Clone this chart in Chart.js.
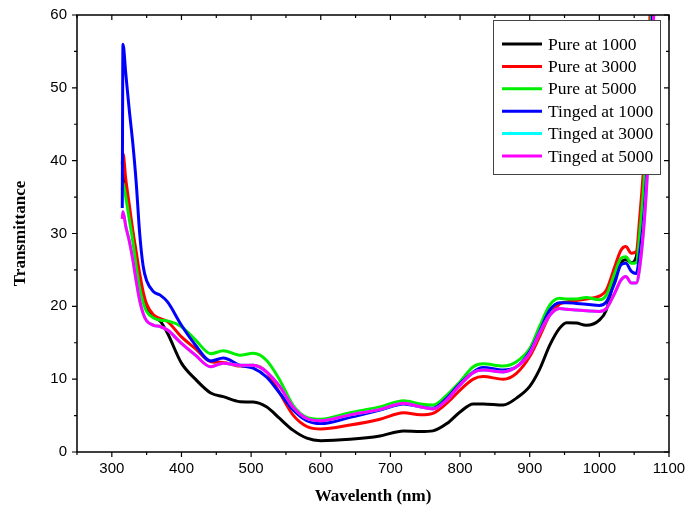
<!DOCTYPE html>
<html>
<head>
<meta charset="utf-8">
<script src="https://cdn.jsdelivr.net/npm/chart.js@4.4.1/dist/chart.umd.min.js"></script>
<style>
  html, body { margin: 0; padding: 0; background: #fff; }
  #wrap { width: 690px; height: 512px; }
</style>
</head>
<body>
<div id="wrap"><canvas id="chart"></canvas></div>
<script>
// wavelength (nm) shared by all curves
const wavelength = [315, 316, 320, 325, 330, 335, 340, 345, 350, 360, 370, 380, 400, 420, 442, 460, 484, 503, 522, 541, 560, 580, 600, 642, 685, 719, 743, 761, 781, 800, 819, 833, 862, 881, 900, 914, 929, 943, 953, 967, 981, 1000, 1010, 1022, 1031, 1038, 1046, 1053, 1058, 1065, 1072, 1078];

const pure1000 = [37.5, 38, 36, 33, 30, 26.5, 23.5, 21, 19.7, 18.6, 17.9, 16.3, 12.2, 10, 8.1, 7.6, 6.9, 6.85, 6.2, 4.6, 3.0, 1.9, 1.55, 1.74, 2.2, 2.9, 2.8, 2.9, 3.9, 5.5, 6.6, 6.6, 6.45, 7.4, 9.0, 11.3, 14.7, 17.0, 17.75, 17.7, 17.4, 18.1, 19.5, 24, 26.0, 26.4, 26.0, 26.8, 30, 37.5, 55, 72];
const pure3000 = [39.5, 41, 37.5, 34, 30.5, 27.5, 24.5, 22, 20.3, 18.8, 18.3, 17.9, 15.8, 14.2, 12.4, 12.3, 11.8, 11.9, 11.0, 8.1, 5.1, 3.5, 3.15, 3.7, 4.5, 5.4, 5.1, 5.3, 6.7, 8.5, 10.0, 10.35, 10.0, 10.8, 13.1, 15.8, 18.8, 20.3, 20.6, 20.8, 21.0, 21.4, 22.2, 25.4, 27.7, 28.2, 27.3, 27.5, 32.3, 41.5, 58, 74];
const pure5000 = [36, 37, 35, 32, 29, 25.5, 22.5, 20.5, 19.3, 18.4, 18.1, 18.0, 17.2, 15.4, 13.5, 13.9, 13.3, 13.55, 12.6, 9.9, 6.45, 4.76, 4.5, 5.4, 6.2, 7.05, 6.6, 6.45, 7.8, 9.65, 11.7, 12.1, 11.8, 12.4, 14.2, 17.2, 20.2, 21.1, 21.0, 21.0, 21.2, 20.9, 21.5, 24.5, 26.6, 26.8, 25.9, 26.0, 30, 38.3, 53, 70];
const tinged1000 = [33.5, 56, 52, 47, 42.5, 37, 30, 25.5, 23.5, 22.0, 21.5, 20.6, 17.4, 14.7, 12.5, 12.9, 11.9, 11.5, 10.3, 8.1, 5.8, 4.3, 3.9, 4.75, 5.75, 6.6, 6.2, 6.0, 7.4, 9.4, 11.0, 11.6, 11.25, 11.7, 13.8, 16.5, 19.5, 20.5, 20.5, 20.4, 20.3, 20.1, 20.6, 23.2, 25.7, 25.9, 24.8, 24.5, 27.3, 33.7, 47, 66];
const tinged3000 = [32, 33, 31, 29, 26.5, 23.5, 20.8, 19, 18, 17.4, 17.2, 16.75, 14.9, 13.3, 11.7, 12.2, 11.9, 11.9, 11.0, 9.0, 6.2, 4.6, 4.3, 5.1, 5.85, 6.7, 6.2, 5.9, 7.15, 9.2, 10.9, 11.25, 11.0, 11.7, 13.55, 16.3, 18.8, 19.7, 19.6, 19.5, 19.4, 19.3, 19.7, 21.8, 23.6, 24.1, 23.2, 23.2, 25.4, 32.3, 44, 60];
const tinged5000 = [32, 33, 31, 29, 26.5, 23.5, 20.8, 19, 18, 17.4, 17.2, 16.75, 14.9, 13.3, 11.7, 12.2, 11.9, 11.9, 11.0, 9.0, 6.2, 4.6, 4.3, 5.1, 5.85, 6.7, 6.2, 5.9, 7.15, 9.2, 10.9, 11.25, 11.0, 11.7, 13.55, 16.3, 18.8, 19.7, 19.6, 19.5, 19.4, 19.3, 19.7, 21.8, 23.6, 24.1, 23.2, 23.2, 25.4, 32.3, 44, 60];

const seriesNames = ['Pure at 1000', 'Pure at 3000', 'Pure at 5000', 'Tinged at 1000', 'Tinged at 3000', 'Tinged at 5000'];
const seriesValues = [pure1000, pure3000, pure5000, tinged1000, tinged3000, tinged5000];
const seriesColors = ['#000000', '#ff0000', '#00ee00', '#0000ff', '#00ffff', '#ff00ff'];

const xMin = 250, xMax = 1100, xStep = 50;
const yMin = 0, yMax = 60, yStep = 5;

const datasets = seriesNames.map((name, i) => ({
    label: name,
    data: wavelength.map((w, k) => ({ x: w, y: seriesValues[i][k] })),
    borderColor: seriesColors[i],
    backgroundColor: seriesColors[i],
    borderWidth: 3,
    pointRadius: 0,
    fill: false,
    cubicInterpolationMode: 'monotone',
    order: seriesNames.length - i
}));

// white page
const bgPlugin = {
    id: 'bg',
    beforeDraw(chart) {
        const c = chart.ctx;
        c.save();
        c.fillStyle = '#fff';
        c.fillRect(0, 0, chart.width, chart.height);
        c.restore();
    }
};

// box legend inside the plot, top right
const boxLegend = {
    id: 'boxLegend',
    afterDatasetsDraw(chart) {
        const c = chart.ctx;
        const a = chart.chartArea;
        const w = 167, h = 154;
        const x0 = a.right - 176, y0 = a.top + 5;
        c.save();
        c.fillStyle = '#fff';
        c.fillRect(x0, y0, w, h);
        c.strokeStyle = '#444';
        c.lineWidth = 1;
        c.strokeRect(x0 + 0.5, y0 + 0.5, w, h);
        c.font = '17.5px "Liberation Serif", "Times New Roman", serif';
        c.textBaseline = 'middle';
        c.fillStyle = '#000';
        chart.data.datasets.forEach((ds, i) => {
            const yy = y0 + 24 + i * 22.4;
            c.strokeStyle = ds.borderColor;
            c.lineWidth = 3;
            c.beginPath();
            c.moveTo(x0 + 9, yy);
            c.lineTo(x0 + 49, yy);
            c.stroke();
            c.fillText(ds.label, x0 + 55, yy + 1);
        });
        c.restore();
    }
};

// frame with ticks: out on bottom/left, in on top/right
const frameTicks = {
    id: 'frameTicks',
    afterDraw(chart) {
        const c = chart.ctx;
        const a = chart.chartArea;
        const xs = chart.scales.x, ys = chart.scales.y;
        c.save();
        c.strokeStyle = '#000';
        c.lineWidth = 1.5;
        c.strokeRect(a.left, a.top, a.right - a.left, a.bottom - a.top);
        c.lineWidth = 1.2;
        c.beginPath();
        xs.ticks.forEach(t => {
            const px = xs.getPixelForValue(t.value);
            const len = t.value % 100 === 0 ? 5 : 3;
            c.moveTo(px, a.bottom); c.lineTo(px, a.bottom + len);
            c.moveTo(px, a.top); c.lineTo(px, a.top + len);
        });
        ys.ticks.forEach(t => {
            const py = ys.getPixelForValue(t.value);
            const len = t.value % 10 === 0 ? 5 : 3;
            c.moveTo(a.left, py); c.lineTo(a.left - len, py);
            c.moveTo(a.right, py); c.lineTo(a.right - len, py);
        });
        c.stroke();
        c.restore();
    }
};

const tickFont = { family: '"Liberation Sans", Arial, sans-serif', size: 15 };
const titleFont = { family: '"Liberation Serif", "Times New Roman", serif', size: 17, weight: 'bold' };

new Chart(document.getElementById('chart'), {
    type: 'line',
    data: { datasets: datasets },
    options: {
        responsive: true,
        maintainAspectRatio: false,
        animation: false,
        layout: { padding: { top: 15, right: 21, left: 0, bottom: 0 } },
        plugins: {
            legend: { display: false },
            tooltip: { enabled: false }
        },
        scales: {
            x: {
                type: 'linear',
                min: xMin,
                max: xMax,
                grid: { display: false, drawTicks: false },
                border: { display: false },
                ticks: {
                    stepSize: xStep,
                    autoSkip: false,
                    maxRotation: 0,
                    color: '#000',
                    font: tickFont,
                    padding: 8,
                    callback: v => (v % 100 === 0 ? v : '')
                },
                title: { display: true, text: 'Wavelenth (nm)', color: '#000', font: titleFont, padding: { top: 0, bottom: 5 } },
                afterFit: s => { s.height = 60; s.paddingLeft = 0; s.paddingRight = 0; }
            },
            y: {
                min: yMin,
                max: yMax,
                grid: { display: false, drawTicks: false },
                border: { display: false },
                ticks: {
                    stepSize: yStep,
                    autoSkip: false,
                    color: '#000',
                    font: tickFont,
                    padding: 10,
                    callback: v => (v % 10 === 0 ? v : '')
                },
                title: { display: true, text: 'Transmittance', color: '#000', font: titleFont, padding: { top: 10, bottom: 0 } },
                afterFit: s => { s.width = 77; s.paddingTop = 0; s.paddingBottom = 0; }
            }
        }
    },
    plugins: [bgPlugin, boxLegend, frameTicks]
});
</script>
</body>
</html>
